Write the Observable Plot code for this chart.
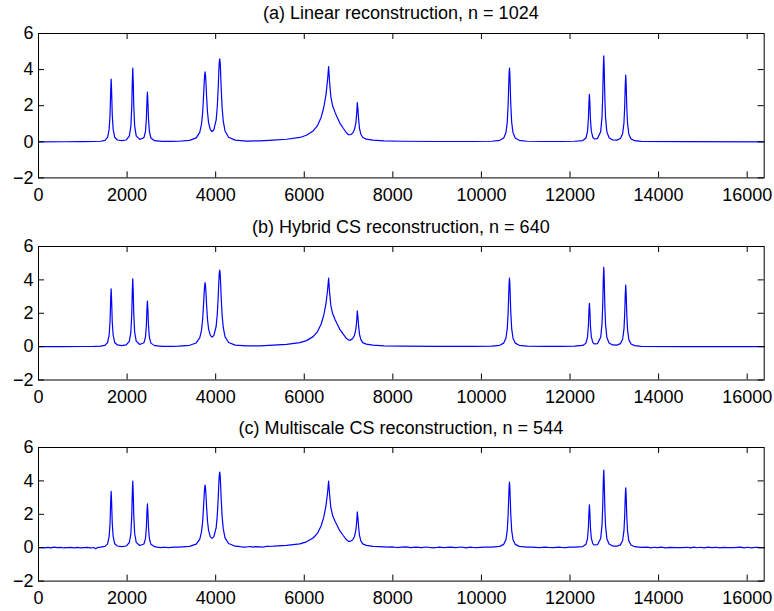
<!DOCTYPE html>
<html><head><meta charset="utf-8">
<script src="https://cdn.jsdelivr.net/npm/d3@7"></script>
<script src="https://cdn.jsdelivr.net/npm/@observablehq/plot@0.6"></script>
<style>
html,body{margin:0;padding:0;background:#fff;}
#fig{position:relative;width:774px;height:611px;overflow:hidden;background:#fff;font-family:"Liberation Sans",Arial,Helvetica,sans-serif;}
.ttl{position:absolute;left:38px;width:725.7px;text-align:center;font-size:18px;line-height:18px;color:#000;white-space:nowrap;}
.pnl{position:absolute;left:0;}
</style></head><body><div id="fig"></div>
<script>
// ---- data ----
const panelTitles = [
  "(a) Linear reconstruction, n = 1024",
  "(b) Hybrid CS reconstruction, n = 640",
  "(c) Multiscale CS reconstruction, n = 544"
];
const xTicks = [0, 2000, 4000, 6000, 8000, 10000, 12000, 14000, 16000];
const yTicks = [-2, 0, 2, 4, 6];
const xDomain = [0, 16384];
const yDomain = [-2, 6];

const xGrid = [
  0, 600, 1000, 1250, 1400, 1500, 1560, 1595, 1615, 1630, 1640, 1650, 1665, 1685, 1720, 1780,
  1880, 1980, 2050, 2085, 2105, 2118, 2128, 2138, 2151, 2171, 2206, 2285,
  2380, 2415, 2435, 2449, 2459, 2469, 2483, 2503, 2538, 2620, 2800, 3000,
  3160, 3410, 3560, 3640, 3680, 3705, 3725, 3740, 3750, 3760, 3770, 3780, 3795, 3815, 3840, 3880, 3918, 3960,
  4011, 4036, 4056, 4071, 4081, 4091, 4101, 4111, 4126, 4146, 4171, 4211, 4291, 4441, 4691, 5000,
  5300, 5600, 5900, 6050, 6200, 6300, 6380, 6440, 6490, 6525, 6550, 6572, 6600, 6640, 6700, 6740, 6800, 6880, 6950, 7000,
  7040, 7090, 7130, 7165, 7185, 7197, 7212, 7227, 7247, 7277, 7320, 7400, 7550, 7800, 8200, 9000, 9800,
  10230, 10413, 10503, 10553, 10583, 10603, 10618, 10625, 10633, 10641, 10648, 10663, 10683, 10713, 10763, 10853, 11033, 11500, 11800, 12100,
  12290, 12360, 12395, 12415, 12428, 12438, 12448, 12461, 12481, 12516, 12550, 12620,
  12692, 12722, 12737, 12744, 12752, 12762, 12772, 12780, 12787, 12802, 12832, 12882, 12962,
  13058, 13138, 13188, 13218, 13233, 13240, 13248, 13258, 13268, 13276, 13283, 13298, 13328, 13378, 13458, 13608, 14500, 16384
];
const yLinear = [
  0, 0.003, 0.008, 0.015, 0.03, 0.08, 0.24, 0.7, 1.5, 2.85, 3.48, 2.85, 1.5, 0.7, 0.25, 0.1,
  0.06, 0.1, 0.32, 0.85, 1.95, 3.35, 4.08, 3.38, 1.96, 0.87, 0.33, 0.13,
  0.23, 0.57, 1.27, 2.29, 2.76, 2.29, 1.27, 0.57, 0.21, 0.06, 0.02, 0.02,
  0.03, 0.08, 0.22, 0.52, 0.98, 1.6, 2.45, 3.25, 3.65, 3.87, 3.7, 3.3, 2.5, 1.65, 1.05, 0.67, 0.57, 0.67,
  1.22, 1.94, 2.94, 3.9, 4.4, 4.59, 4.4, 3.86, 2.88, 1.87, 1.15, 0.6, 0.25, 0.09, 0.04, 0.05,
  0.09, 0.14, 0.24, 0.36, 0.6, 0.9, 1.35, 1.9, 2.6, 3.4, 4.17, 3.3, 2.5, 2.0, 1.6, 1.38, 1.05, 0.75, 0.5, 0.39,
  0.39, 0.47, 0.65, 1.05, 1.6, 2.17, 1.8, 1.25, 0.75, 0.42, 0.24, 0.15, 0.09, 0.05, 0.03, 0.015, 0.015,
  0.03, 0.08, 0.21, 0.5, 1.08, 2.05, 3.27, 3.8, 4.09, 3.8, 3.27, 2.05, 1.08, 0.5, 0.21, 0.08, 0.03, 0.015, 0.015, 0.03,
  0.07, 0.21, 0.57, 1.28, 2.2, 2.63, 2.2, 1.28, 0.59, 0.24, 0.16, 0.18,
  0.56, 1.35, 2.4, 3.14, 4.1, 4.76, 4.1, 3.14, 2.39, 1.35, 0.55, 0.22, 0.1,
  0.09, 0.18, 0.44, 1.05, 1.85, 2.44, 3.18, 3.7, 3.18, 2.44, 1.85, 1.05, 0.42, 0.16, 0.06, 0.02, 0.005, 0
];
const yHybrid = [
  0, 0.003, 0.008, 0.015, 0.03, 0.08, 0.24, 0.7, 1.49, 2.84, 3.46, 2.84, 1.49, 0.7, 0.25, 0.1,
  0.06, 0.1, 0.32, 0.85, 1.94, 3.33, 4.06, 3.36, 1.95, 0.87, 0.33, 0.13,
  0.23, 0.57, 1.26, 2.27, 2.73, 2.27, 1.26, 0.57, 0.21, 0.06, 0.02, 0.02,
  0.03, 0.08, 0.22, 0.52, 0.98, 1.6, 2.44, 3.22, 3.62, 3.84, 3.67, 3.28, 2.49, 1.65, 1.05, 0.67, 0.57, 0.67,
  1.22, 1.94, 2.93, 3.89, 4.39, 4.58, 4.39, 3.85, 2.87, 1.87, 1.15, 0.6, 0.25, 0.09, 0.04, 0.05,
  0.09, 0.14, 0.24, 0.36, 0.6, 0.9, 1.34, 1.88, 2.57, 3.35, 4.1, 3.25, 2.47, 1.98, 1.59, 1.37, 1.05, 0.75, 0.5, 0.39,
  0.39, 0.47, 0.65, 1.04, 1.58, 2.14, 1.78, 1.24, 0.75, 0.42, 0.24, 0.15, 0.09, 0.05, 0.03, 0.015, 0.015,
  0.03, 0.08, 0.21, 0.5, 1.08, 2.05, 3.28, 3.81, 4.1, 3.81, 3.28, 2.05, 1.08, 0.5, 0.21, 0.08, 0.03, 0.015, 0.015, 0.03,
  0.07, 0.21, 0.57, 1.27, 2.18, 2.6, 2.18, 1.27, 0.59, 0.24, 0.16, 0.18,
  0.56, 1.35, 2.39, 3.13, 4.09, 4.75, 4.09, 3.13, 2.38, 1.35, 0.55, 0.22, 0.1,
  0.09, 0.18, 0.44, 1.05, 1.85, 2.43, 3.17, 3.69, 3.17, 2.43, 1.85, 1.05, 0.42, 0.16, 0.06, 0.02, 0.005, 0
];
const yMultiscale = [
  0, 0.003, 0.008, 0.015, 0.03, 0.08, 0.23, 0.68, 1.46, 2.76, 3.38, 2.76, 1.46, 0.68, 0.24, 0.1,
  0.06, 0.1, 0.31, 0.83, 1.9, 3.27, 3.99, 3.3, 1.92, 0.85, 0.32, 0.13,
  0.22, 0.54, 1.21, 2.18, 2.62, 2.18, 1.21, 0.54, 0.2, 0.06, 0.02, 0.02,
  0.03, 0.08, 0.21, 0.5, 0.95, 1.55, 2.38, 3.15, 3.54, 3.75, 3.59, 3.2, 2.43, 1.6, 1.02, 0.65, 0.56, 0.66,
  1.2, 1.92, 2.9, 3.85, 4.34, 4.53, 4.34, 3.81, 2.84, 1.85, 1.14, 0.59, 0.25, 0.09, 0.04, 0.05,
  0.09, 0.14, 0.23, 0.35, 0.58, 0.87, 1.3, 1.83, 2.5, 3.26, 3.99, 3.17, 2.41, 1.93, 1.55, 1.34, 1.02, 0.73, 0.49, 0.38,
  0.38, 0.46, 0.64, 1.04, 1.58, 2.14, 1.78, 1.24, 0.74, 0.41, 0.23, 0.14, 0.08, 0.05, 0.03, 0.015, 0.015,
  0.03, 0.08, 0.2, 0.48, 1.04, 1.97, 3.14, 3.65, 3.93, 3.65, 3.14, 1.97, 1.04, 0.48, 0.2, 0.08, 0.03, 0.015, 0.015, 0.03,
  0.07, 0.2, 0.55, 1.24, 2.14, 2.56, 2.14, 1.24, 0.57, 0.23, 0.16, 0.18,
  0.55, 1.32, 2.35, 3.07, 4.01, 4.65, 4.01, 3.07, 2.34, 1.32, 0.54, 0.22, 0.1,
  0.09, 0.17, 0.43, 1.02, 1.8, 2.37, 3.09, 3.59, 3.09, 2.37, 1.8, 1.02, 0.41, 0.16, 0.06, 0.02, 0.005, 0
];
// small baseline ripples of the multiscale reconstruction, panel (c)
const rippleX = [
  60, 130, 210, 280, 350, 430, 500, 580, 650, 720, 800, 870, 950, 1020, 1100, 1170, 1240, 1290, 1330,
  2680, 2750, 2860, 2930, 3080,
  4520, 4600, 4780, 4830, 4900, 5080, 5150,
  7700, 7900, 7980, 8100, 8300, 8400, 8520, 8650, 8750, 8900, 9050, 9150, 9300, 9420, 9550, 9650, 9750, 9900, 10050,
  11150, 11300, 11450, 11620, 11750, 11900, 12000,
  13750, 13820, 13900, 13980, 14060, 14150, 14250, 14400, 14650, 14720, 14800, 14870, 14950, 15030, 15120, 15200, 15300, 15380, 15470, 15560, 15700, 15850, 15930, 16010, 16100, 16200, 16300
];
const rippleY = [
  0.01, -0.015, 0.02, -0.01, 0.03, 0.0, 0.015, -0.02, 0.01, 0.02, -0.01, 0.015, -0.015, 0.005, 0.02, -0.01, 0.01, -0.07, 0.005,
  0.03, 0.0, 0.025, 0.005, 0.03,
  0.08, 0.04, 0.07, 0.03, 0.06, 0.04, 0.08,
  0.06, 0.03, 0.05, 0.01, 0.045, 0.0, 0.035, 0.005, 0.04, -0.01, 0.035, 0.0, 0.03, 0.005, 0.04, -0.01, 0.03, 0.005, 0.035,
  0.03, 0.0, 0.035, 0.005, 0.03, 0.0, 0.035,
  0.03, -0.01, 0.025, 0.0, 0.035, -0.01, 0.02, 0.0, 0.025, -0.015, 0.03, -0.005, 0.025, -0.01, 0.03, 0.0, 0.025, -0.01, 0.02, 0.0, 0.01, 0.03, -0.01, 0.025, -0.005, 0.025, 0.0
];

// ---- layout ----
const W = 774, mL = 38, mR = 10.3, mT = 10, mB = 30;
const panels = [
  {title: panelTitles[0], ys: yLinear, extraX: [], extraY: [], plotTop: 33.3, plotH: 144.4, titleTop: 3.5},
  {title: panelTitles[1], ys: yHybrid, extraX: [], extraY: [], plotTop: 246, plotH: 133.5, titleTop: 217.5},
  {title: panelTitles[2], ys: yMultiscale, extraX: rippleX, extraY: rippleY, plotTop: 447.4, plotH: 133.6, titleTop: 418.5}
];
const fmt = d => d < 0 ? "\u2212" + (-d) : String(d);
const fig = document.getElementById("fig");
const plotW = W - mL - mR;

for (const p of panels) {
  const data = xGrid.map((x, i) => ({x, y: p.ys[i]}))
    .concat(p.extraX.map((x, i) => ({x, y: p.extraY[i]})))
    .sort((a, b) => a.x - b.x);
  const t = document.createElement("div");
  t.className = "ttl";
  t.style.top = p.titleTop + "px";
  t.textContent = p.title;
  fig.appendChild(t);

  const svg = Plot.plot({
    width: W, height: mT + p.plotH + mB,
    marginLeft: mL, marginRight: mR, marginTop: mT, marginBottom: mB,
    style: {fontFamily: '"Liberation Sans", Arial, Helvetica, sans-serif', fontSize: "18px", background: "transparent", color: "#000", overflow: "visible"},
    x: {domain: xDomain},
    y: {domain: yDomain},
    marks: [
      Plot.line(data, {x: "x", y: "y", stroke: "#0000ff", strokeWidth: 1.2}),
      Plot.tickX(xTicks, {x: d => d, insetTop: p.plotH - 6, stroke: "#000"}),
      Plot.tickX(xTicks, {x: d => d, insetBottom: p.plotH - 6, stroke: "#000"}),
      Plot.tickY(yTicks, {y: d => d, insetRight: plotW - 6, stroke: "#000"}),
      Plot.tickY(yTicks, {y: d => d, insetLeft: plotW - 6, stroke: "#000"}),
      Plot.frame({stroke: "#000", strokeWidth: 1}),
      Plot.axisX(xTicks, {tickSize: 0, tickPadding: 10, tickFormat: fmt, label: null, fill: "#000"}),
      Plot.axisY(yTicks, {tickSize: 0, tickPadding: 5, tickFormat: fmt, label: null, fill: "#000"})
    ]
  });
  svg.classList.add("pnl");
  svg.style.position = "absolute";
  svg.style.left = "0px";
  svg.style.top = (p.plotTop - mT) + "px";
  fig.appendChild(svg);
}
</script>
</body></html>
